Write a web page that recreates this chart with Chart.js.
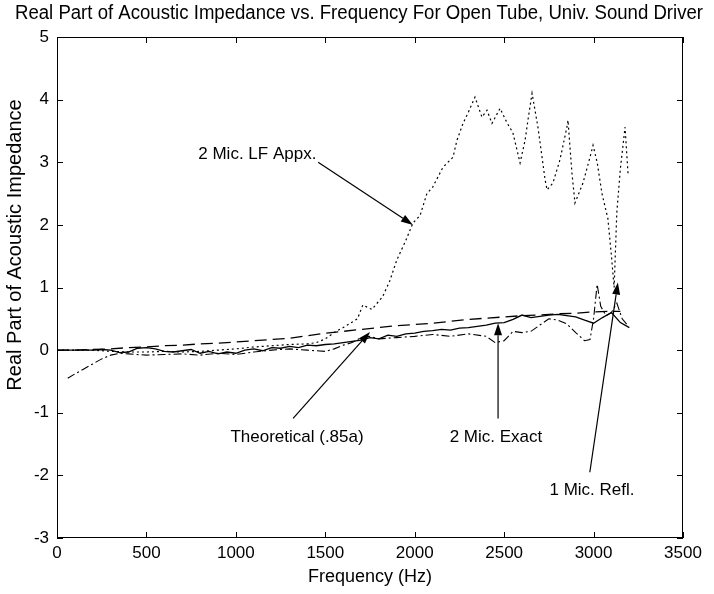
<!DOCTYPE html>
<html>
<head>
<meta charset="utf-8">
<script src="https://cdn.jsdelivr.net/npm/chart.js@4.4.1/dist/chart.umd.min.js"></script>
<style>
  html, body { margin: 0; padding: 0; background: #fff; }
  #wrap { width: 714px; height: 594px; }
</style>
</head>
<body>
<div id="wrap"><canvas id="grafico" width="714" height="594"></canvas></div>
<script>
// dados (Hz / impedância)
var theoFreq = [0, 100, 200, 300, 400, 500, 600, 700, 800, 900, 1000, 1100, 1200, 1300, 1400, 1500, 1600, 1700, 1800, 1900, 2000, 2100, 2200, 2300, 2400, 2500, 2600, 2700, 2800, 2900, 3000, 3100, 3150];
var theoVals = [0, 0, 0.01, 0.02, 0.04, 0.05, 0.07, 0.08, 0.1, 0.11, 0.13, 0.15, 0.17, 0.19, 0.23, 0.27, 0.3, 0.33, 0.36, 0.39, 0.41, 0.43, 0.46, 0.49, 0.51, 0.53, 0.55, 0.56, 0.58, 0.59, 0.61, 0.62, 0.62];

var exactFreq = [0, 50, 100, 150, 200, 250, 300, 350, 400, 450, 500, 550, 600, 650, 700, 750, 800, 850, 900, 950, 1000, 1050, 1100, 1150, 1200, 1250, 1300, 1350, 1400, 1450, 1500, 1550, 1600, 1650, 1700, 1750, 1800, 1850, 1900, 1950, 2000, 2050, 2100, 2150, 2200, 2250, 2300, 2350, 2400, 2450, 2500, 2550, 2600, 2650, 2700, 2750, 2800, 2850, 2900, 2950, 3000, 3050, 3100, 3150, 3200];
var exactVals = [0, 0, 0, 0, 0, 0.01, 0, -0.04, -0.03, 0.03, 0.04, 0.02, -0.02, -0.03, -0.01, 0.01, -0.05, -0.02, -0.06, -0.03, -0.05, 0, 0.02, -0.01, 0.04, 0.03, 0.06, 0.04, 0.08, 0.07, 0.09, 0.1, 0.12, 0.14, 0.16, 0.2, 0.18, 0.24, 0.22, 0.26, 0.27, 0.3, 0.31, 0.33, 0.32, 0.35, 0.36, 0.38, 0.4, 0.43, 0.44, 0.49, 0.56, 0.52, 0.54, 0.56, 0.57, 0.55, 0.53, 0.48, 0.43, 0.52, 0.6, 0.44, 0.36];

var reflFreq = [60, 100, 150, 200, 250, 300, 350, 400, 500, 600, 700, 800, 900, 1000, 1100, 1200, 1300, 1400, 1500, 1550, 1600, 1650, 1700, 1750, 1800, 1900, 2000, 2100, 2200, 2300, 2400, 2450, 2500, 2550, 2600, 2650, 2700, 2750, 2800, 2850, 2900, 2950, 2980, 3000, 3020, 3040, 3070, 3100, 3130, 3160, 3190];
var reflVals = [-0.45, -0.38, -0.3, -0.22, -0.14, -0.08, -0.05, -0.06, -0.08, -0.07, -0.06, -0.08, -0.05, -0.07, -0.03, 0, 0.02, 0, -0.02, 0.02, 0.08, 0.12, 0.2, 0.22, 0.18, 0.2, 0.22, 0.25, 0.22, 0.26, 0.22, 0.12, 0.15, 0.3, 0.28, 0.3, 0.4, 0.5, 0.48, 0.42, 0.28, 0.15, 0.17, 0.5, 1.05, 0.7, 0.55, 0.6, 0.75, 0.5, 0.4];

var lfFreq = [0, 100, 200, 300, 400, 500, 600, 700, 800, 900, 1000, 1100, 1200, 1300, 1400, 1450, 1500, 1560, 1600, 1640, 1680, 1710, 1760, 1820, 1860, 1900, 1950, 1990, 2030, 2068, 2100, 2158, 2214, 2236, 2270, 2300, 2337, 2376, 2404, 2432, 2477, 2516, 2549, 2589, 2617, 2633, 2656, 2689, 2729, 2740, 2773, 2812, 2851, 2857, 2879, 2896, 2941, 2980, 2997, 3020, 3047, 3080, 3100, 3115, 3130, 3150, 3176, 3193];
var lfVals = [0, 0, 0, -0.02, -0.03, -0.03, -0.02, -0.03, -0.02, 0, 0.02, 0.05, 0.07, 0.09, 0.1, 0.12, 0.18, 0.3, 0.36, 0.43, 0.5, 0.72, 0.65, 0.85, 1.1, 1.44, 1.75, 2.03, 2.15, 2.5, 2.6, 2.92, 3.08, 3.35, 3.62, 3.8, 4.04, 3.72, 3.83, 3.62, 3.86, 3.63, 3.47, 2.99, 3.35, 3.67, 4.1, 3.56, 2.72, 2.56, 2.67, 3.04, 3.56, 3.67, 2.83, 2.35, 2.67, 3.08, 3.27, 3.0, 2.5, 2.1, 1.5, 1.0, 2.2, 2.9, 3.56, 2.8];

var xTicks = [0, 500, 1000, 1500, 2000, 2500, 3000, 3500];
var yTicks = [-3, -2, -1, 0, 1, 2, 3, 4, 5];

var titulo = 'Real Part of Acoustic Impedance vs. Frequency For Open Tube, Univ. Sound Driver';
var tituloY = 'Real Part of Acoustic Impedance';
var tituloX = 'Frequency (Hz)';

// rótulos com setas (em coordenadas de dados)
var rotulos = [
    { texto: '2 Mic. LF Appx.', tx: 1120, ty: 3.12, de: [1460, 3.0], para: [1990, 2.0] },
    { texto: 'Theoretical (.85a)', tx: 1342, ty: -1.39, de: [1320, -1.09], para: [1750, 0.29] },
    { texto: '2 Mic. Exact', tx: 2454, ty: -1.39, de: [2466, -1.09], para: [2466, 0.43] },
    { texto: '1 Mic. Refl.', tx: 2991, ty: -2.24, de: [2979, -1.95], para: [3136, 1.08] }
];

var fonte = "'Liberation Sans', Arial, sans-serif";

function pontos(xs, ys) {
    return xs.map(function (x, i) { return { x: x, y: ys[i] }; });
}

// moldura estilo MATLAB: caixa, ticks para dentro, títulos, setas e textos
var molduraPlugin = {
    id: 'moldura',
    afterDatasetsDraw: function (chart) {
        var ctx = chart.ctx;
        var a = chart.chartArea;
        var sx = chart.scales.x, sy = chart.scales.y;
        ctx.save();
        ctx.strokeStyle = '#000';
        ctx.lineWidth = 1;
        ctx.strokeRect(a.left + 0.5, a.top + 0.5, a.right - a.left - 1, a.bottom - a.top - 1);
        ctx.beginPath();
        xTicks.forEach(function (v) {
            var px = Math.round(sx.getPixelForValue(v)) + 0.5;
            ctx.moveTo(px, a.bottom); ctx.lineTo(px, a.bottom - 6);
            ctx.moveTo(px, a.top); ctx.lineTo(px, a.top + 6);
        });
        yTicks.forEach(function (v) {
            var py = Math.round(sy.getPixelForValue(v)) + 0.5;
            ctx.moveTo(a.left, py); ctx.lineTo(a.left + 6, py);
            ctx.moveTo(a.right, py); ctx.lineTo(a.right - 6, py);
        });
        ctx.stroke();

        ctx.fillStyle = '#000';
        ctx.textAlign = 'center';
        ctx.textBaseline = 'middle';

        // título (comprimido na horizontal para caber como no original)
        ctx.font = '20px ' + fonte;
        var largura = ctx.measureText(titulo).width;
        var fator = Math.min(1, 688 / largura);
        ctx.save();
        ctx.translate(359, 13);
        ctx.scale(fator, 1);
        ctx.fillText(titulo, 0, 0);
        ctx.restore();

        // rótulo do eixo y
        ctx.save();
        ctx.translate(15, 245);
        ctx.rotate(-Math.PI / 2);
        ctx.fillText(tituloY, 0, 0);
        ctx.restore();

        ctx.font = '17px ' + fonte;
        rotulos.forEach(function (r) {
            ctx.fillText(r.texto, sx.getPixelForValue(r.tx), sy.getPixelForValue(r.ty));
            var x0 = sx.getPixelForValue(r.de[0]), y0 = sy.getPixelForValue(r.de[1]);
            var x1 = sx.getPixelForValue(r.para[0]), y1 = sy.getPixelForValue(r.para[1]);
            var ang = Math.atan2(y1 - y0, x1 - x0);
            var comp = 12, larg = 4;
            ctx.lineWidth = 1.2;
            ctx.beginPath();
            ctx.moveTo(x0, y0);
            ctx.lineTo(x1 - comp * Math.cos(ang), y1 - comp * Math.sin(ang));
            ctx.stroke();
            ctx.beginPath();
            ctx.moveTo(x1, y1);
            ctx.lineTo(x1 - comp * Math.cos(ang) + larg * Math.sin(ang), y1 - comp * Math.sin(ang) - larg * Math.cos(ang));
            ctx.lineTo(x1 - comp * Math.cos(ang) - larg * Math.sin(ang), y1 - comp * Math.sin(ang) + larg * Math.cos(ang));
            ctx.closePath();
            ctx.fill();
        });
        ctx.restore();
    }
};

document.addEventListener('DOMContentLoaded', function () {
    var ctx = document.getElementById('grafico').getContext('2d');

    new Chart(ctx, {
        type: 'line',
        data: {
            datasets: [{
                label: 'Theoretical (.85a)',
                data: pontos(theoFreq, theoVals),
                borderColor: '#000',
                borderWidth: 1.3,
                borderDash: [12, 6]
            }, {
                label: '2 Mic. Exact',
                data: pontos(exactFreq, exactVals),
                borderColor: '#000',
                borderWidth: 1.3
            }, {
                label: '1 Mic. Refl.',
                data: pontos(reflFreq, reflVals),
                borderColor: '#000',
                borderWidth: 1.1,
                borderDash: [8, 3, 2, 3]
            }, {
                label: '2 Mic. LF Appx.',
                data: pontos(lfFreq, lfVals),
                borderColor: '#000',
                borderWidth: 1.2,
                borderDash: [2, 3]
            }]
        },
        options: {
            responsive: false,
            animation: false,
            layout: { padding: { left: 0, right: 31, top: 37, bottom: 0 } },
            elements: { point: { radius: 0 }, line: { tension: 0, fill: false } },
            plugins: {
                legend: { display: false },
                tooltip: { enabled: false },
                title: { display: false }
            },
            scales: {
                x: {
                    type: 'linear',
                    min: 0,
                    max: 3500,
                    afterBuildTicks: function (s) { s.ticks = xTicks.map(function (v) { return { value: v }; }); },
                    afterFit: function (s) { s.height = 56; },
                    grid: { display: false, drawTicks: false },
                    border: { display: false },
                    ticks: {
                        color: '#000', padding: 5, maxRotation: 0,
                        font: { family: fonte, size: 17 },
                        callback: function (v) { return String(v); }
                    },
                    title: {
                        display: true,
                        text: tituloX,
                        color: '#000',
                        font: { family: fonte, size: 18 },
                        padding: { top: 0, bottom: 6 }
                    }
                },
                y: {
                    min: -3,
                    max: 5,
                    afterBuildTicks: function (s) { s.ticks = yTicks.map(function (v) { return { value: v }; }); },
                    afterFit: function (s) { s.width = 57; },
                    grid: { display: false, drawTicks: false },
                    border: { display: false },
                    ticks: {
                        color: '#000', padding: 8,
                        font: { family: fonte, size: 17 },
                        callback: function (v) { return String(v); }
                    }
                }
            }
        },
        plugins: [molduraPlugin]
    });
});
</script>
</body>
</html>
